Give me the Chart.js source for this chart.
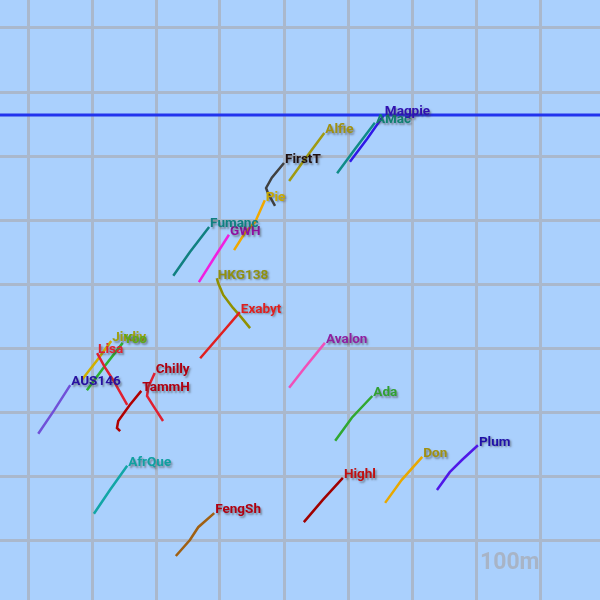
<!DOCTYPE html>
<html>
<head>
<meta charset="utf-8">
<title>Race tracks</title>
<script src="https://cdn.jsdelivr.net/npm/chart.js@4/dist/chart.umd.min.js"></script>
<style>
  body { margin: 0; background: #aad0fd; }
  #wrap { width: 600px; height: 600px; }
</style>
</head>
<body>
<div id="wrap"><canvas id="map" width="600" height="600"></canvas></div>
<script>
// Grid ticks in metres (one cell = 100 m)
const gridTicks = [0, 100, 200, 300, 400, 500, 600, 700, 800];
const scaleLabel = '100m';

// Start line (metres)
const startLineY = 664;

// Boat names, in drawing order
const boats = ['FengSh', 'AfrQue', 'Highl', 'Don', 'Plum', 'Ada', 'Avalon', 'TammH', 'Chilly',
  'AUS146', 'Lisa', 'Jirdiv', 'Yoo', 'Exabyt', 'HKG138', 'GWH', 'Fumanc', 'FirstT', 'Pie',
  'Alfie', 'AMac', 'Magpie'];

// Track points [x, y] in metres, oldest first, last point = current position
const trackFengSh = [[231, -25], [253, 0], [266, 20], [291, 42]];
const trackAfrQue = [[103, 41], [128, 78], [155, 116]];
const trackHighl = [[431, 28], [461, 63], [492, 97]];
const trackDon = [[558, 58], [584, 94], [616, 130]];
const trackPlum = [[639, 78], [659, 106], [678, 125], [703, 148]];
const trackAda = [[480, 155], [506, 191], [538, 225]];
const trackAvalon = [[408, 238], [433, 270], [464, 308]];
const trackTammH = [[144, 170], [139, 175], [141, 186], [159, 211], [177, 233]];
const trackChilly = [[211, 186], [198, 206], [186, 225], [188, 239], [198, 261]];
const trackAUS146 = [[16, 166], [41, 203], [66, 242]];
const trackLisa = [[155, 211], [133, 250], [120, 270], [108, 292]];
const trackJirdiv = [[84, 250], [108, 281], [130, 311]];
const trackYoo = [[92, 234], [120, 272], [148, 308]];
const trackExabyt = [[269, 284], [300, 320], [331, 356]];
const trackHKG138 = [[347, 331], [334, 347], [320, 363], [305, 383], [297, 402], [295, 409]];
const trackGWH = [[267, 403], [291, 441], [314, 477]];
const trackFumanc = [[227, 413], [253, 450], [283, 489]];
const trackFirstT = [[386, 522], [375, 542], [372, 550], [381, 566], [400, 589]];
const trackPie = [[322, 453], [339, 480], [355, 497], [370, 531]];
const trackAlfie = [[408, 561], [434, 597], [463, 636]];
const trackAMac = [[483, 573], [511, 611], [542, 652]];
const trackMagpie = [[503, 591], [530, 627], [556, 664]];

const tracks = [trackFengSh, trackAfrQue, trackHighl, trackDon, trackPlum, trackAda, trackAvalon,
  trackTammH, trackChilly, trackAUS146, trackLisa, trackJirdiv, trackYoo, trackExabyt, trackHKG138,
  trackGWH, trackFumanc, trackFirstT, trackPie, trackAlfie, trackAMac, trackMagpie];

const lineColors = ['#a06012', '#12a6a6', '#a00000', '#e8a800', '#5018e8', '#30a830', '#f050b8',
  '#b00000', '#e02030', '#7050d8', '#e02030', '#d0b000', '#30b030', '#e02020', '#909000',
  '#f020e0', '#108080', '#404040', '#f0a800', '#a09a10', '#108c88', '#3018e8'];
const labelColors = ['#b00010', '#10a0a0', '#c01010', '#a09010', '#2010a8', '#30a030', '#9020a0',
  '#b00010', '#b00010', '#2810a0', '#e02030', '#a0a010', '#60a818', '#e02020', '#909010',
  '#9010a0', '#108080', '#201010', '#c8a800', '#a09010', '#108070', '#3010b0'];

const toPoints = arr => arr.map(p => ({ x: p[0], y: p[1] }));

const datasets = tracks.map((t, i) => ({
  label: boats[i],
  data: toPoints(t),
  showLine: true,
  borderColor: lineColors[i],
  borderWidth: 2.5,
  pointRadius: 0,
  tension: 0
}));

// start line across the whole map
datasets.unshift({
  label: 'start',
  data: [{ x: -50, y: startLineY }, { x: 900, y: startLineY }],
  showLine: true,
  borderColor: '#2233ee',
  borderWidth: 3,
  pointRadius: 0
});

const background = {
  id: 'background',
  beforeDraw(chart) {
    const ctx = chart.ctx;
    ctx.save();
    ctx.fillStyle = '#aad0fd';
    ctx.fillRect(0, 0, chart.width, chart.height);
    ctx.restore();
  }
};

// boat names at the head of each track, plus the scale text
const boatLabels = {
  id: 'boatLabels',
  afterDatasetsDraw(chart) {
    const ctx = chart.ctx;
    ctx.save();
    ctx.font = 'bold 13.5px Roboto, "DejaVu Sans", sans-serif';
    ctx.textAlign = 'left';
    ctx.textBaseline = 'middle';
    ctx.shadowColor = 'rgba(60,60,60,0.5)';
    ctx.shadowOffsetX = 1.5;
    ctx.shadowOffsetY = 1.5;
    ctx.shadowBlur = 2;
    chart.data.datasets.forEach((ds, i) => {
      if (i === 0) return;
      const meta = chart.getDatasetMeta(i);
      const head = meta.data[meta.data.length - 1];
      ctx.fillStyle = labelColors[i - 1];
      ctx.fillText(ds.label, head.x + 1, head.y - 3);
    });
    ctx.restore();

    const xs = chart.scales.x, ys = chart.scales.y;
    ctx.save();
    ctx.font = 'bold 23px Roboto, "DejaVu Sans", sans-serif';
    ctx.fillStyle = '#a8b4c6';
    ctx.textAlign = 'left';
    ctx.textBaseline = 'middle';
    ctx.fillText(scaleLabel, xs.getPixelForValue(700) + 4, ys.getPixelForValue(-37));
    ctx.restore();
  }
};

const gridOpts = {
  display: true,
  drawTicks: false,
  color: '#aab8cc',
  lineWidth: 3
};

new Chart(document.getElementById('map'), {
  type: 'scatter',
  data: { datasets },
  options: {
    responsive: false,
    animation: false,
    layout: { padding: 0 },
    plugins: { legend: { display: false }, tooltip: { enabled: false } },
    scales: {
      x: {
        type: 'linear',
        min: -43.75,
        max: 893.75,
        grid: gridOpts,
        border: { display: false },
        ticks: { display: false },
        afterBuildTicks: s => { s.ticks = gridTicks.map(v => ({ value: v })); }
      },
      y: {
        type: 'linear',
        min: -93.75,
        max: 843.75,
        grid: gridOpts,
        border: { display: false },
        ticks: { display: false },
        afterBuildTicks: s => { s.ticks = gridTicks.map(v => ({ value: v })); }
      }
    }
  },
  plugins: [background, boatLabels]
});
</script>
</body>
</html>
